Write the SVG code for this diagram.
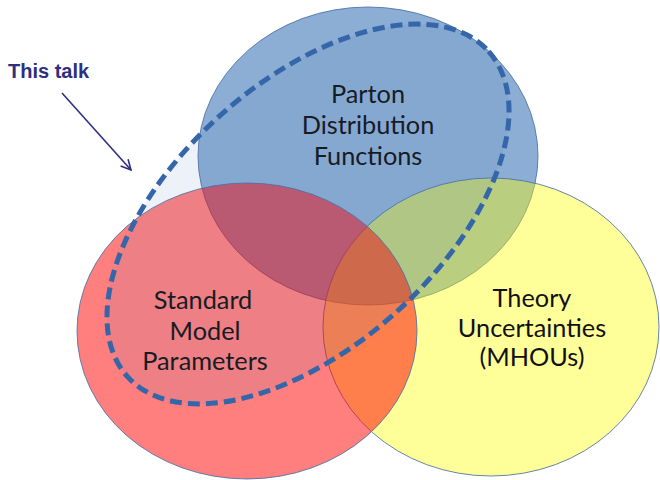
<svg xmlns="http://www.w3.org/2000/svg" width="660" height="480" viewBox="0 0 660 480">
  <defs>
    <style>
      .set { stroke: #4A6FA5; stroke-width: 1; stroke-opacity: 0.85; }
      .label { font-family: Lato, "Liberation Sans", sans-serif; font-size: 25.3px; fill: #111111; text-anchor: middle; }
      .note { font-family: "Liberation Sans", Arial, sans-serif; font-weight: bold; font-size: 20px; fill: #2E2F7E; }
    </style>
    <marker id="openArrow" viewBox="0 0 12 12" refX="11" refY="6" markerWidth="12" markerHeight="12" markerUnits="userSpaceOnUse" orient="auto">
      <path d="M1,1 L11,6 L1,11" fill="none" stroke="#2E2F7E" stroke-width="1.6"/>
    </marker>
  </defs>
  <rect width="660" height="480" fill="#FFFFFF"/>

  <g id="pdf">
    <ellipse class="set" cx="368" cy="156" rx="170" ry="149" fill="#4F81BD" fill-opacity="0.65"/>
    <text class="label" x="368" y="103">Parton</text>
    <text class="label" x="368" y="134">Distribution</text>
    <text class="label" x="368" y="165">Functions</text>
  </g>

  <g id="mhou">
    <ellipse class="set" cx="491" cy="327" rx="168" ry="149" fill="#FFFF00" fill-opacity="0.4"/>
    <text class="label" x="532" y="307">Theory</text>
    <text class="label" x="532" y="337">Uncertainties</text>
    <text class="label" x="532" y="366">(MHOUs)</text>
  </g>

  <g id="smp">
    <ellipse class="set" cx="247" cy="331" rx="170" ry="148" fill="#FF0000" fill-opacity="0.5"/>
    <text class="label" x="203" y="309">Standard</text>
    <text class="label" x="205" y="340">Model</text>
    <text class="label" x="205" y="370">Parameters</text>
  </g>

  <g id="this-talk-region">
    <ellipse cx="0" cy="0" rx="243" ry="132" transform="translate(308 214) rotate(-42)" fill="#4F81BD" fill-opacity="0.1" stroke="#3466A9" stroke-width="5" stroke-dasharray="12 6"/>
  </g>

  <g id="this-talk-note">
    <text class="note" x="8" y="78">This talk</text>
  </g>

  <g id="connectors">
    <line x1="62" y1="93" x2="131" y2="170" stroke="#2E2F7E" stroke-width="1.6" marker-end="url(#openArrow)"/>
  </g>
</svg>
